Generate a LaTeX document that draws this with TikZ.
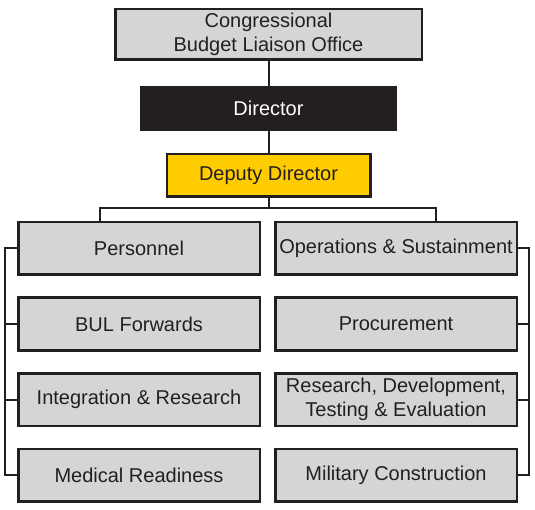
\documentclass[tikz,border=0pt]{standalone}
\usepackage{fontspec}
\setmainfont{Liberation Sans}
\usepackage{xcolor}
\usepackage{tikz}
\usetikzlibrary{positioning}

\definecolor{boxgray}{HTML}{D5D5D7}
\definecolor{darkline}{HTML}{231F20}
\definecolor{deputyyellow}{HTML}{FFCC00}

\begin{document}
\begin{tikzpicture}[
  x=1pt, y=1pt,
  font=\fontsize{20}{24}\selectfont,
  node distance=20.5pt,
  box/.style={draw=darkline, line width=2.5pt, fill=boxgray, text=darkline, align=center, inner sep=0pt},
  unitbox/.style={box, minimum width=241.5pt, minimum height=52.5pt},
  link/.style={draw=darkline, line width=2pt}
]
\useasboundingbox (0,0) rectangle (535,-510);

\node[box, minimum width=306.5pt, minimum height=50.5pt] (cblo) at (268.5,-34.5) {Congressional\\Budget Liaison Office};
\node[box, fill=darkline, text=white, minimum width=254.5pt, minimum height=42.5pt, below=25pt of cblo] (director) {Director};
\node[box, fill=deputyyellow, minimum width=203.5pt, minimum height=42.5pt, below=22pt of director] (deputy) {Deputy Director};

% left column
\node[unitbox] (personnel) at (139,-248.5) {Personnel};
\node[unitbox, below=of personnel] (bul) {BUL Forwards};
\node[unitbox, below=of bul] (integration) {Integration \& Research};
\node[unitbox, below=of integration] (medical) {Medical Readiness};

% right column
\node[unitbox] (operations) at (396,-248.5) {Operations \& Sustainment};
\node[unitbox, below=of operations] (procurement) {Procurement};
\node[unitbox, below=of procurement] (rdte) {Research, Development,\\Testing \& Evaluation};
\node[unitbox, below=of rdte] (milcon) {Military Construction};

\coordinate (busL) at (100,-208);
\coordinate (busR) at (436,-208);
\coordinate (spineL) at (5,0);
\coordinate (spineR) at (529,0);

\draw[link] (cblo) -- (director);
\draw[link] (director) -- (deputy);
\draw[link] (deputy.south) -- (deputy.south |- busL);
\draw[link] (personnel.north -| busL) -- (busL) -- (busR) -- (operations.north -| busR);

\draw[link] (personnel.west) -- (personnel.west -| spineL) -- (medical.west -| spineL) -- (medical.west);
\foreach \unit in {bul, integration}
  \draw[link] (\unit.west) -- (\unit.west -| spineL);

\draw[link] (operations.east) -- (operations.east -| spineR) -- (milcon.east -| spineR) -- (milcon.east);
\foreach \unit in {procurement, rdte}
  \draw[link] (\unit.east) -- (\unit.east -| spineR);

\end{tikzpicture}
\end{document}
